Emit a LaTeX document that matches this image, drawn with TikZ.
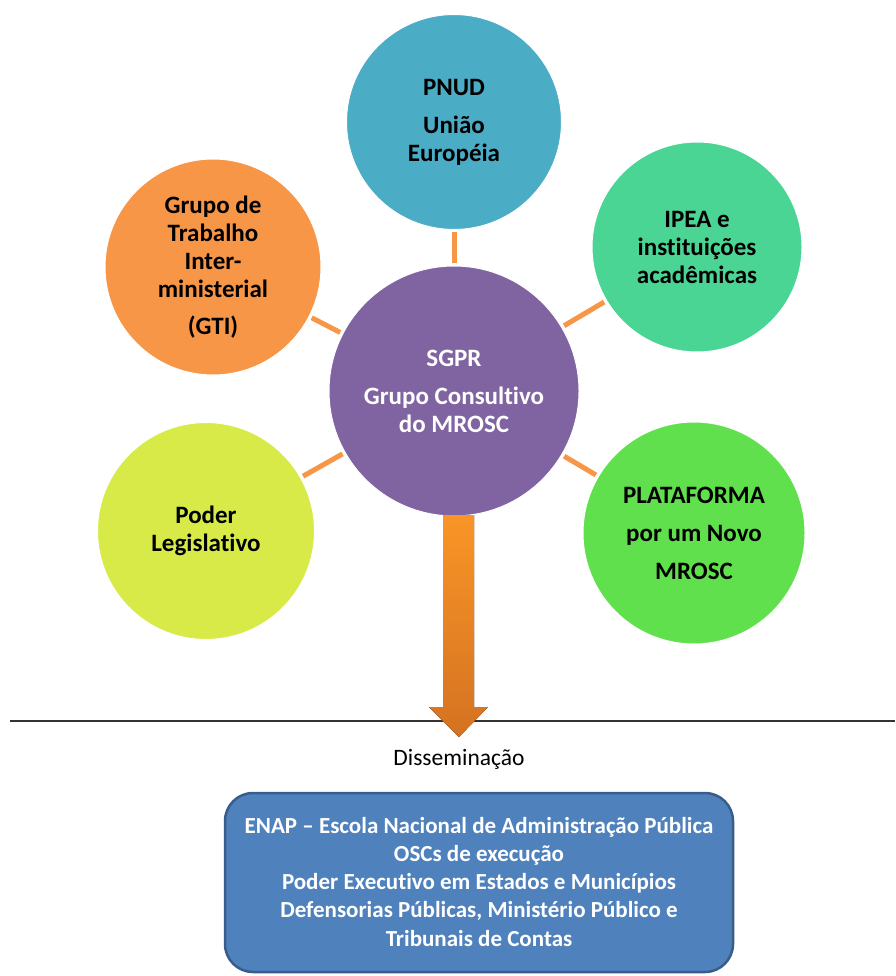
\documentclass[tikz,border=0pt]{standalone}
\usepackage{fontspec}
\setmainfont{Carlito}[Ligatures=NoCommon]
\definecolor{cTeal}{RGB}{75,172,198}
\definecolor{cOrange}{RGB}{247,150,70}
\definecolor{cMint}{RGB}{74,213,148}
\definecolor{cPurple}{RGB}{128,100,162}
\definecolor{cLime}{RGB}{215,234,72}
\definecolor{cGreen}{RGB}{96,224,76}
\definecolor{cConn}{RGB}{247,150,70}
\definecolor{boxBlue}{RGB}{79,129,189}
\definecolor{boxBorder}{RGB}{56,93,138}
\definecolor{arrTop}{RGB}{249,149,38}
\definecolor{arrBot}{RGB}{212,114,34}
\begin{document}
\begin{tikzpicture}[x=1pt,y=-1pt]
\tikzset{
  bub/.style={circle, inner sep=0pt, outer sep=0pt, align=center,
    font=\fontsize{25}{28}\selectfont\bfseries, draw=white, line width=1pt},
  conn/.style={draw=cConn, line width=5pt, shorten <=3pt, shorten >=3pt},
  infobox/.style={draw=boxBorder, line width=2.5pt, fill=boxBlue, rounded corners=28pt,
    minimum width=508pt, minimum height=179pt, align=center, text=white,
    font=\fontsize{23}{28}\selectfont\bfseries},
}
\useasboundingbox (0,0) rectangle (895,976);
\fill[white] (0,0) rectangle (895,976);

% circles
\node[bub, fill=cTeal, minimum size=215pt] (pnud) at (454,122) {PNUD\\[10pt]União\\Européia};
\node[bub, fill=cOrange, minimum size=216pt] (gti) at (213,267) {Grupo de\\Trabalho\\Inter-\\ministerial\\[9pt](GTI)};
\node[bub, fill=cMint, minimum size=210pt] (ipea) at (697,247) {IPEA e\\instituições\\acadêmicas};
\node[bub, fill=cLime, minimum size=217pt] (leg) at (206,531) {Poder\\Legislativo};
\node[bub, fill=cGreen, minimum size=222pt] (plat) at (694,533) {PLATAFORMA\\[10pt]por um Novo\\[10pt]MROSC};
\node[bub, fill=cPurple, minimum size=250pt, text=white] (sgpr) at (454,391) {SGPR\\[10pt]Grupo Consultivo\\do MROSC};

% connectors
\draw[conn] (pnud) -- (sgpr);
\draw[conn] (gti) -- (sgpr);
\draw[conn] (ipea) -- (sgpr);
\draw[conn] (leg) -- (sgpr);
\draw[conn] (plat) -- (sgpr);

% separator line
\coordinate (lineL) at (10,721);
\coordinate (lineR) at (895,721);
\draw[line width=2pt, black!80] (lineL) -- (lineR);

% block arrow
\fill[top color=arrTop, bottom color=arrBot]
  (443,515) -- (474,515) -- (474,707) -- (488,707) -- (459,737) -- (429,707) -- (443,707) -- cycle;

\node[font=\fontsize{23.5}{26}\selectfont, text=black] (diss) at (459,759) {Disseminação};

\node[infobox] (box) at (479,882.5) {ENAP – Escola Nacional de Administração Pública\\OSCs de execução\\Poder Executivo em Estados e Municípios\\Defensorias Públicas, Ministério Público e\\[1pt]Tribunais de Contas};
\end{tikzpicture}
\end{document}
